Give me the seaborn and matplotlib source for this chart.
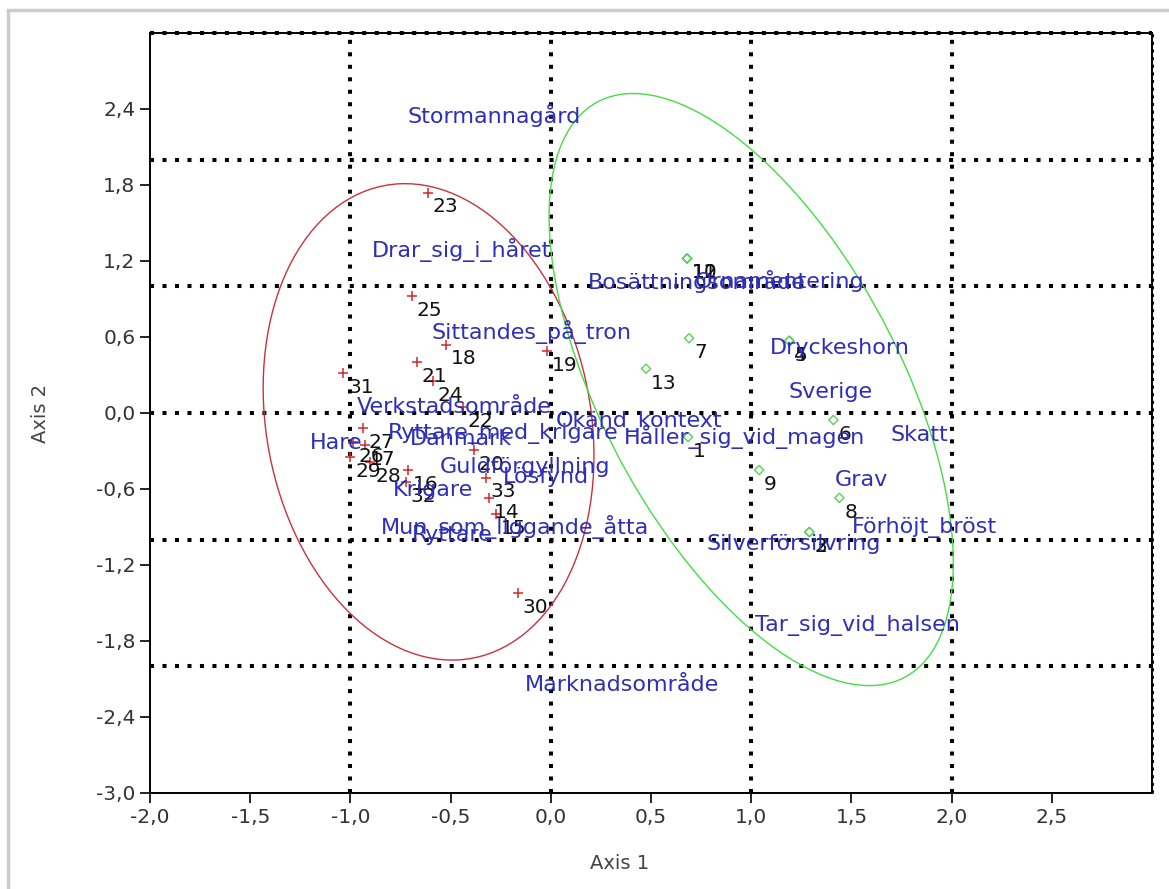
import matplotlib
matplotlib.use("Agg")
import matplotlib.pyplot as plt
from matplotlib.patches import Ellipse, Rectangle
import pandas as pd
import seaborn as sns

# ---- observations (row points) ----
red_ids = [14, 15, 16, 17, 18, 19, 20, 21, 22, 23, 24, 25, 26, 27, 28, 29, 30, 31, 32, 33]
red_x = [-0.31, -0.275, -0.715, -0.925, -0.525, -0.02, -0.385, -0.67, -0.44, -0.615,
         -0.59, -0.695, -0.985, -0.935, -0.90, -1.0, -0.165, -1.035, -0.725, -0.325]
red_y = [-0.67, -0.80, -0.45, -0.25, 0.54, 0.49, -0.29, 0.40, 0.045, 1.74,
         0.25, 0.92, -0.23, -0.12, -0.39, -0.35, -1.42, 0.316, -0.545, -0.51]

green_ids = [1, 2, 3, 4, 5, 6, 7, 8, 9, 10, 11, 12, 13]
green_x = [0.685, 1.29, 1.29, 1.19, 1.19, 1.41, 0.69, 1.44, 1.04, 0.68, 0.68, 0.68, 0.475]
green_y = [-0.19, -0.94, -0.94, 0.57, 0.57, -0.055, 0.59, -0.67, -0.45, 1.22, 1.22, 1.22, 0.35]

# ---- variable categories (column points, shown as text only) ----
cat_names = ["Stormannagård", "Drar_sig_i_håret", "Sittandes_på_tron", "Bosättningsområde",
             "Ornamentering", "Dryckeshorn", "Sverige", "Skatt", "Grav", "Förhöjt_bröst",
             "Silverförsilvring", "Tar_sig_vid_halsen", "Marknadsområde", "Okänd_kontext",
             "Håller_sig_vid_magen", "Ryttare_med_krigare", "Danmark", "Verkstadsområde",
             "Hare", "Guldförgyllning", "Lösfynd", "Krigare", "Mun_som_liggande_åtta", "Ryttare"]
cat_x = [-0.285, -0.445, -0.095, 0.73, 1.14, 1.44, 1.395, 1.84, 1.55, 1.865,
         1.21, 1.53, 0.355, 0.44, 0.965, -0.24, -0.45, -0.48,
         -1.07, -0.13, -0.025, -0.59, -0.18, -0.49]
cat_y = [2.35, 1.285, 0.64, 1.035, 1.035, 0.51, 0.165, -0.175, -0.53, -0.90,
         -1.035, -1.675, -2.15, -0.07, -0.19, -0.16, -0.205, 0.047,
         -0.235, -0.425, -0.505, -0.61, -0.90, -0.965]

# ---- confidence ellipses: center x, center y, width, height, angle ----
red_ell = (-0.61, -0.07, 3.77, 1.63, -85.6)
green_ell = (1.0, 0.185, 4.84, 1.58, -74.1)

grid_x = [-1, 0, 1, 2]
grid_y = [-2, -1, 0, 1, 2]
xticks = [-2.0, -1.5, -1.0, -0.5, 0.0, 0.5, 1.0, 1.5, 2.0, 2.5]
yticks = [-3.0, -2.4, -1.8, -1.2, -0.6, 0.0, 0.6, 1.2, 1.8, 2.4]

sns.set_style("white")
plt.rcParams['font.family'] = ['DejaVu Sans']

RED = "#d42a2a"
GREEN = "#5ccf5c"
BLUE = "#2e2eb8"

fig = plt.figure(figsize=(11.69, 8.89), dpi=100)
ax = fig.add_axes([150 / 1169, 96 / 889, 1002 / 1169, 760 / 889])

# dotted reference grid
for gx in grid_x:
    ax.axvline(gx, color="black", lw=2.9, ls=(0, (1, 2.1)), zorder=1)
for gy in grid_y:
    ax.axhline(gy, color="black", lw=2.9, ls=(0, (1, 2.1)), zorder=1)
ax.axhline(3, color="black", lw=2.9, ls=(0, (1, 2.1)), zorder=1, clip_on=False)
ax.axvline(3, color="black", lw=2.2, ls=(0, (1, 1.5)), zorder=1, clip_on=False)

# ellipses
for (cx, cy, w, h, ang), col in [(red_ell, "#c8323f"), (green_ell, "#44dd44")]:
    ax.add_patch(Ellipse((cx, cy), w, h, angle=ang, fill=False, ec=col, lw=1.0, zorder=2))

red_df = pd.DataFrame({"x": red_x, "y": red_y, "id": red_ids})
green_df = pd.DataFrame({"x": green_x, "y": green_y, "id": green_ids})

sns.scatterplot(data=red_df, x="x", y="y", marker="+", s=55, color=RED, linewidth=1.1, ax=ax, zorder=3)
sns.scatterplot(data=green_df, x="x", y="y", marker="D", s=22, color=GREEN,
                facecolor="none", edgecolor=GREEN, linewidth=1.0, ax=ax, zorder=3)

for df in (red_df, green_df):
    for _, r in df.iterrows():
        ax.annotate(str(int(r["id"])), (r["x"], r["y"]), xytext=(3.5, -3.5), textcoords="offset points",
                    ha="left", va="top", fontsize=14.5, color="#111111", zorder=4)

for name, tx, ty in zip(cat_names, cat_x, cat_y):
    ax.text(tx, ty, name, ha="center", va="center", fontsize=16, color=BLUE, zorder=5)

ax.set_xlim(-2.0, 3.0)
ax.set_ylim(-3.0, 3.0)
ax.set_xticks(xticks)
ax.set_yticks(yticks)
ax.set_xticklabels([f"{v:.1f}".replace(".", ",") for v in xticks])
ax.set_yticklabels([f"{v:.1f}".replace(".", ",") for v in yticks])
ax.tick_params(axis="both", direction="out", length=7, width=1.2, colors="black",
               labelsize=14.5, labelcolor="#333333", left=True, bottom=True)

for sp in ax.spines.values():
    sp.set_visible(True)
    sp.set_color("black")
    sp.set_linewidth(1.4)

ax.set_xlabel("Axis 1", fontsize=14, color="#444444")
ax.set_ylabel("Axis 2", fontsize=14, color="#444444")
ax.xaxis.set_label_coords(0.469, -0.08)
ax.yaxis.set_label_coords(-0.10, 0.5)

fig.patches.append(Rectangle((8 / 1169, -0.05), 1.05, 1.05 - 10 / 889,
                             transform=fig.transFigure, fill=False, ec="#cccccc", lw=2.5))

fig.savefig("out.png", dpi=100)
